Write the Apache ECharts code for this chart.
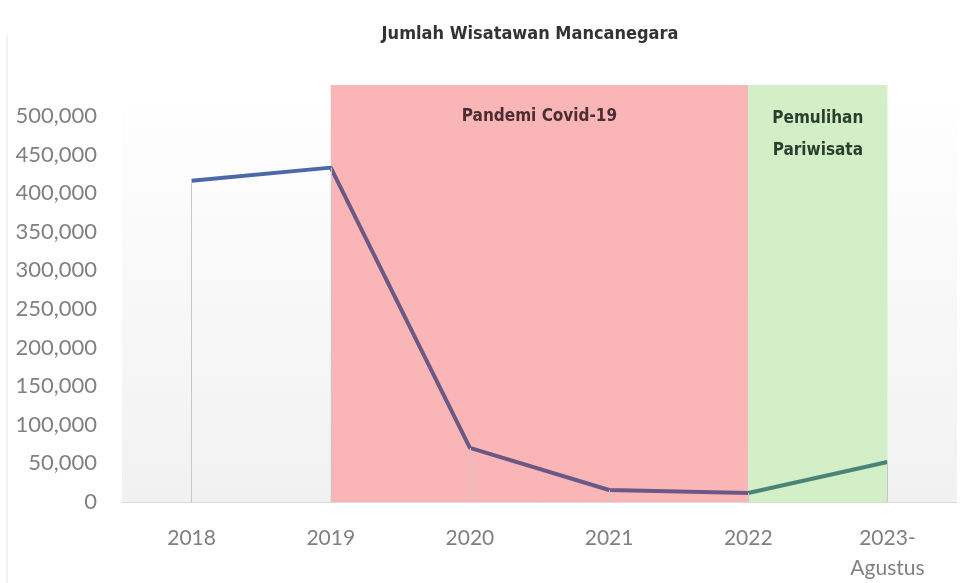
<!DOCTYPE html>
<html>
<head>
    <meta charset="utf-8">
    <title>Jumlah Wisatawan Mancanegara</title>
    <script src="https://cdn.jsdelivr.net/npm/echarts@6/dist/echarts.min.js"></script>
    <style>
        html, body { margin: 0; padding: 0; background: #fff; }
        #main { width: 960px; height: 583px; }
    </style>
</head>
<body>
<div id="main"></div>
<script type="text/javascript">
    // data
    const years = ['2018', '2019', '2020', '2021', '2022', '2023-\nAgustus'];
    const visitors = [416000, 433000, 70000, 15500, 11600, 51700];
    const pandemiRange = ['2019', '2022'];
    const pemulihanRange = ['2022', '2023-\nAgustus'];

    const chart = echarts.init(document.getElementById('main'));
    const condensed = '"DejaVu Sans Condensed", "Liberation Sans Narrow", sans-serif';

    const option = {
        animation: false,
        title: {
            text: 'Jumlah Wisatawan Mancanegara',
            left: 525,
            textAlign: 'center',
            top: 20,
            textStyle: { fontFamily: condensed, fontSize: 18, fontWeight: 'bold', color: '#333' }
        },
        grid: {
            left: 122,
            right: 3,
            top: 85,
            bottom: 81,
            show: true,
            borderWidth: 0,
            backgroundColor: new echarts.graphic.LinearGradient(0, 0, 0, 1, [
                { offset: 0, color: '#ffffff' },
                { offset: 1, color: '#f1f1f1' }
            ])
        },
        xAxis: {
            type: 'category',
            data: years,
            boundaryGap: true,
            axisLine: { lineStyle: { color: '#d9d9d9' } },
            axisTick: { show: false },
            axisLabel: { color: '#808080', fontSize: 21, fontFamily: 'Lato, sans-serif', margin: 21, lineHeight: 30 }
        },
        yAxis: {
            type: 'value',
            min: 0,
            max: 540000,
            interval: 50000,
            splitLine: { show: false },
            axisLine: { show: false },
            axisTick: { show: false },
            axisLabel: {
                showMaxLabel: false,
                color: '#808080',
                fontSize: 22,
                fontFamily: 'Lato, sans-serif',
                margin: 25,
                formatter: function (v) { return v.toLocaleString('en-US'); }
            }
        },
        visualMap: {
            show: false,
            type: 'piecewise',
            dimension: 0,
            seriesIndex: 2,
            pieces: [
                { lte: 1, color: '#4a69a6' },
                { gt: 1, lte: 4, color: '#6c5884' },
                { gt: 4, color: '#4a8478' }
            ]
        },
        series: [
            {
                // drop lines
                type: 'line',
                z: 1,
                data: visitors,
                lineStyle: { opacity: 0 },
                symbol: 'none',
                silent: true,
                markLine: {
                    symbol: 'none',
                    silent: true,
                    label: { show: false },
                    lineStyle: { color: '#c8c8c8', width: 1, type: 'solid' },
                    data: visitors.map(function (v, i) {
                        return [{ coord: [i, 0] }, { coord: [i, v] }];
                    })
                }
            },
            {
                // shaded periods
                type: 'line',
                z: 2,
                data: [],
                markArea: {
                    silent: true,
                    data: [
                        [{
                            xAxis: pandemiRange[0],
                            itemStyle: { color: '#fab6b6' },
                            label: {
                                show: true,
                                position: 'insideTop',
                                distance: 23,
                                formatter: 'Pandemi Covid-19',
                                fontFamily: condensed,
                                fontSize: 17,
                                fontWeight: 'bold',
                                color: '#4a2e34'
                            }
                        }, { xAxis: pandemiRange[1] }],
                        [{
                            xAxis: pemulihanRange[0],
                            itemStyle: { color: '#d2efc8' },
                            label: {
                                show: true,
                                position: 'insideTop',
                                distance: 18,
                                formatter: 'Pemulihan\nPariwisata',
                                lineHeight: 32,
                                fontFamily: condensed,
                                fontSize: 17,
                                fontWeight: 'bold',
                                color: '#2e3e2e'
                            }
                        }, { xAxis: pemulihanRange[1] }]
                    ]
                }
            },
            {
                type: 'line',
                z: 3,
                data: visitors,
                symbol: 'none',
                lineStyle: { width: 4 }
            }
        ],
        graphic: [{
            type: 'line',
            shape: { x1: 7, y1: 35, x2: 7, y2: 583 },
            style: { stroke: '#e6e6e6', lineWidth: 1 }
        }]
    };
    chart.setOption(option);
    window.addEventListener('resize', chart.resize);
</script>
</body>
</html>
